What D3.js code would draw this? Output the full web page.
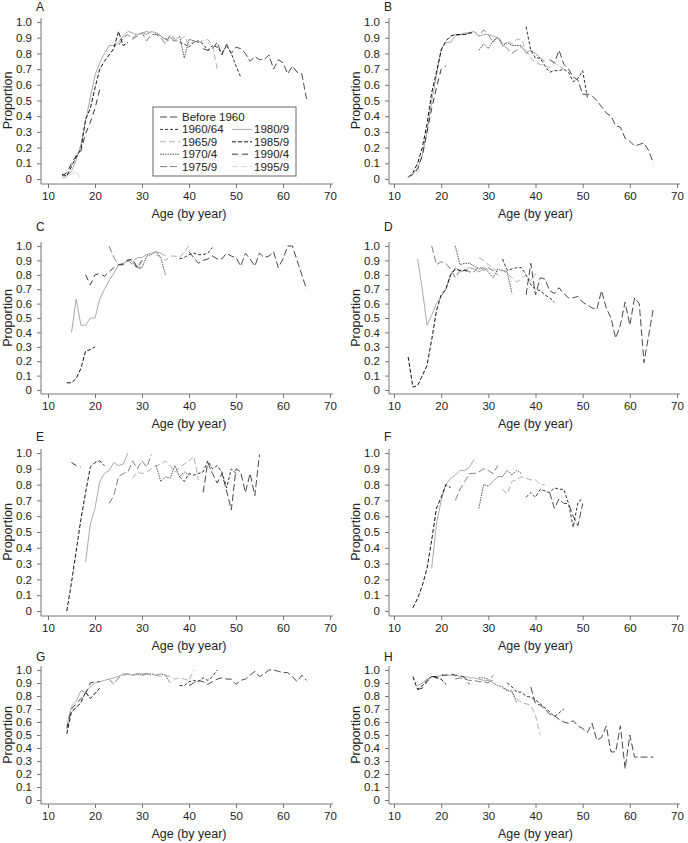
<!DOCTYPE html>
<head>
    <meta charset="utf-8">
    <title>Proportion by age and cohort</title>
    <script src="https://d3js.org/d3.v7.min.js"></script>
</head>
<style>
body {
  margin: 0;
  background: #fff;
  font-family: "Liberation Sans", Arial, Helvetica, sans-serif;
}
.tick text { font-size: 11.5px; fill: #222; }
.tick line { stroke: #777; }
</style>
<body>
    <svg></svg>
</body>

<script>

    // Cohorts shown in the legend
    var cohorts = ["Before 1960", "1960/64", "1965/9", "1970/4", "1975/9", "1980/9", "1985/9", "1990/4", "1995/9"];

    var xTicks = [10, 20, 30, 40, 50, 60, 70];
    var yTicks = [0, 0.1, 0.2, 0.3, 0.4, 0.5, 0.6, 0.7, 0.8, 0.9, 1.0];

    // Each series: [cohort, first age, proportions by single year of age]
    var panelA = [
        ["Before 1960", 43, [0.83, 0.82, 0.83, 0.87, 0.79, 0.86, 0.80, 0.84, 0.83, 0.80, 0.75, 0.78, 0.76, 0.76, 0.79, 0.70, 0.76, 0.74, 0.67, 0.72, 0.68, 0.67, 0.51]],
        ["1960/64", 38, [0.87, 0.86, 0.84, 0.87, 0.88, 0.86, 0.82, 0.85, 0.84, 0.80, 0.85, 0.80, 0.72, 0.65]],
        ["1965/9", 33, [0.93, 0.91, 0.89, 0.88, 0.88, 0.88, 0.91, 0.85, 0.88, 0.87, 0.88, 0.89, 0.85, 0.70]],
        ["1970/4", 28, [0.90, 0.92, 0.93, 0.92, 0.94, 0.93, 0.91, 0.89, 0.90, 0.88, 0.91, 0.77, 0.89, 0.88, 0.87]],
        ["1975/9", 23, [0.85, 0.85, 0.85, 0.90, 0.92, 0.89, 0.91, 0.93, 0.88, 0.92, 0.92, 0.90, 0.86, 0.92, 0.89]],
        ["1980/9", 13, [0.01, 0.02, 0.05, 0.12, 0.22, 0.37, 0.52, 0.66, 0.74, 0.80, 0.85, 0.85, 0.87, 0.91, 0.94, 0.93, 0.92, 0.93, 0.94, 0.93]],
        ["1985/9", 13, [0.03, 0.02, 0.08, 0.14, 0.19, 0.38, 0.45, 0.58, 0.70, 0.75, 0.79, 0.83, 0.94, 0.85, 0.87]],
        ["1990/4", 13, [0.02, 0.04, 0.10, 0.15, 0.18, 0.29, 0.36, 0.45, 0.57]],
        ["1995/9", 13, [0.00, 0.01, 0.03, 0.05, 0.00]]
    ];

    var panelB = [
        ["Before 1960", 43, [0.76, 0.74, 0.82, 0.73, 0.70, 0.65, 0.63, 0.54, 0.54, 0.53, 0.50, 0.46, 0.42, 0.40, 0.34, 0.33, 0.26, 0.24, 0.21, 0.22, 0.23, 0.18, 0.10]],
        ["1960/64", 38, [0.97, 0.82, 0.77, 0.77, 0.72, 0.68, 0.69, 0.69, 0.70, 0.68, 0.62, 0.64, 0.69, 0.52]],
        ["1965/9", 33, [0.84, 0.88, 0.86, 0.89, 0.89, 0.82, 0.77, 0.74, 0.73, 0.72, 0.71, 0.74, 0.72, 0.70]],
        ["1970/4", 28, [0.82, 0.86, 0.83, 0.88, 0.90, 0.85, 0.87, 0.85, 0.85, 0.85, 0.80, 0.82, 0.80, 0.77, 0.75]],
        ["1975/9", 23, [0.92, 0.92, 0.92, 0.93, 0.94, 0.91, 0.95, 0.92, 0.87, 0.91, 0.86, 0.83, 0.80, 0.82, 0.84]],
        ["1980/9", 13, [0.01, 0.03, 0.07, 0.15, 0.30, 0.50, 0.66, 0.83, 0.87, 0.87, 0.91, 0.92, 0.93, 0.93, 0.94, 0.91, 0.92, 0.92, 0.91, 0.90]],
        ["1985/9", 13, [0.01, 0.04, 0.10, 0.20, 0.35, 0.55, 0.68, 0.82, 0.88, 0.91, 0.92, 0.92, 0.92, 0.93, 0.93]],
        ["1990/4", 13, [0.01, 0.03, 0.06, 0.15, 0.30, 0.45, 0.58, 0.70, 0.72]],
        ["1995/9", 13, [0.01, 0.02, 0.04, 0.08]]
    ];

    var panelC = [
        ["Before 1960", 40, [0.96, 0.92, 0.88, 0.90, 0.91, 0.93, 0.91, 0.91, 0.95, 0.93, 0.92, 0.86, 0.95, 0.91, 0.86, 0.95, 0.92, 0.93, 0.96, 0.85, 0.91, 1.00, 1.00, 0.90, 0.80, 0.70]],
        ["1960/64", 38, [0.91, 0.92, 0.94, 0.95, 0.94, 0.94, 0.95, 0.99]],
        ["1965/9", 33, [0.94, 0.92, 0.90, 0.93, 0.93, 0.92, 0.96, 1.00]],
        ["1970/4", 28, [0.88, 0.86, 0.85, 0.93, 0.94, 0.96, 0.92, 0.80]],
        ["1975/9", 23, [1.00, 0.92, 0.87, 0.88, 0.90, 0.87, 0.85, 0.84]],
        ["1980/9", 15, [0.40, 0.63, 0.45, 0.45, 0.50, 0.50, 0.63, 0.70, 0.76, 0.81, 0.87, 0.87, 0.91, 0.89, 0.92, 0.92, 0.94, 0.95, 0.96, 0.95, 0.93]],
        ["1985/9", 14, [0.05, 0.05, 0.08, 0.15, 0.27, 0.28, 0.30]],
        ["1990/4", 18, [0.80, 0.73, 0.80, 0.81, 0.79, 0.82, 0.85, 0.87, 0.87, 0.90, 0.91, 0.85, 0.90]]
    ];

    var panelD = [
        ["Before 1960", 38, [0.66, 0.88, 0.66, 0.78, 0.77, 0.69, 0.67, 0.71, 0.67, 0.64, 0.64, 0.65, 0.61, 0.59, 0.57, 0.56, 0.69, 0.57, 0.50, 0.36, 0.45, 0.61, 0.45, 0.64, 0.60, 0.19, 0.38, 0.57]],
        ["1960/64", 33, [0.91, 0.83, 0.84, 0.85, 0.85, 0.80, 0.73, 0.70, 0.69, 0.66, 0.64, 0.61]],
        ["1965/9", 28, [0.92, 0.90, 0.87, 0.85, 0.82, 0.83, 0.81, 0.78, 0.75, 0.77, 0.80, 0.76, 0.81]],
        ["1970/4", 23, [1.00, 0.87, 0.88, 0.88, 0.86, 0.84, 0.85, 0.82, 0.78, 0.84, 0.83, 0.82, 0.67]],
        ["1975/9", 18, [1.00, 0.87, 0.89, 0.88, 0.84, 0.78, 0.83, 0.84, 0.82, 0.82, 0.86, 0.83, 0.85, 0.83, 0.80]],
        ["1980/9", 15, [0.91, 0.70, 0.45, 0.52, 0.60, 0.65, 0.70, 0.80, 0.85, 0.82, 0.83, 0.85, 0.84, 0.82, 0.84, 0.84]],
        ["1985/9", 13, [0.23, 0.02, 0.03, 0.10, 0.17, 0.35, 0.55, 0.66, 0.70, 0.80, 0.84, 0.83, 0.83, 0.82]]
    ];

    var panelE = [
        ["Before 1960", 43, [0.75, 0.94, 0.87, 0.81, 0.87, 0.76, 0.64, 0.90, 0.88, 0.75, 0.87, 0.73, 0.99]],
        ["1960/64", 38, [0.85, 0.82, 0.87, 0.86, 0.87, 0.88, 0.95, 0.90, 0.92, 0.88, 0.78, 0.90, 0.87]],
        ["1965/9", 28, [0.84, 0.88, 0.87, 0.88, 0.90, 0.92, 0.93, 0.95, 0.92, 0.88, 0.91, 0.93, 0.95, 0.98, 0.83]],
        ["1970/4", 33, [0.92, 0.82, 0.85, 0.84, 0.92, 0.85, 0.88, 0.86]],
        ["1975/9", 23, [0.68, 0.73, 0.85, 0.87, 0.88, 0.95, 0.90, 0.95, 0.91, 0.99]],
        ["1980/9", 18, [0.31, 0.55, 0.65, 0.82, 0.87, 0.89, 0.94, 0.92, 0.93, 1.00]],
        ["1985/9", 14, [0.00, 0.18, 0.38, 0.58, 0.75, 0.91, 0.94, 0.95, 0.92]],
        ["1990/4", 15, [0.94, 0.92, 0.91]]
    ];

    var panelF = [
        ["Before 1960", 43, [0.75, 0.65, 0.71, 0.68, 0.68, 0.60, 0.54, 0.68]],
        ["1960/64", 38, [0.72, 0.75, 0.72, 0.77, 0.76, 0.75, 0.78, 0.77, 0.77, 0.68, 0.53, 0.69, 0.71]],
        ["1965/9", 33, [0.77, 0.74, 0.82, 0.83, 0.85, 0.84, 0.83, 0.83, 0.80, 0.80]],
        ["1970/4", 28, [0.65, 0.80, 0.79, 0.82, 0.85, 0.85, 0.89, 0.86, 0.89, 0.87]],
        ["1975/9", 23, [0.70, 0.77, 0.82, 0.87, 0.87, 0.88, 0.90, 0.89, 0.87, 0.92]],
        ["1980/9", 18, [0.27, 0.55, 0.70, 0.80, 0.84, 0.86, 0.89, 0.89, 0.91, 0.96]],
        ["1985/9", 14, [0.02, 0.08, 0.16, 0.27, 0.45, 0.65, 0.72, 0.80, 0.78]]
    ];

    var panelG = [
        ["Before 1960", 40, [0.88, 0.90, 0.92, 0.91, 0.89, 0.91, 0.93, 0.94, 0.93, 0.93, 0.89, 0.92, 0.93, 0.96, 0.99, 0.95, 0.97, 1.00, 1.00, 0.99, 0.98, 0.98, 0.95, 0.91, 0.96, 0.92]],
        ["1960/64", 38, [0.88, 0.88, 0.91, 0.92, 0.91, 0.94, 0.92, 0.95, 1.00]],
        ["1965/9", 33, [0.96, 0.95, 0.96, 0.95, 0.93, 0.94, 0.93, 0.92, 1.00]],
        ["1970/4", 28, [0.96, 0.97, 0.96, 0.97, 0.97, 0.96, 0.97, 0.96, 0.90]],
        ["1975/9", 23, [0.93, 0.89, 0.94, 0.96, 0.97, 0.96, 0.97, 0.96, 0.97, 0.96]],
        ["1980/9", 14, [0.57, 0.72, 0.76, 0.84, 0.83, 0.87, 0.90, 0.91, 0.92, 0.93, 0.94, 0.95, 0.97, 0.97, 0.96, 0.97, 0.97, 0.97, 0.96]],
        ["1985/9", 14, [0.51, 0.68, 0.71, 0.75, 0.83, 0.78, 0.82, 0.86]],
        ["1990/4", 14, [0.55, 0.70, 0.74, 0.78, 0.82, 0.90, 0.91, 0.91]]
    ];

    var panelH = [
        ["Before 1960", 39, [0.87, 0.74, 0.73, 0.70, 0.66, 0.65, 0.62, 0.60, 0.59, 0.61, 0.57, 0.55, 0.52, 0.59, 0.46, 0.48, 0.57, 0.37, 0.37, 0.57, 0.24, 0.50, 0.33, 0.33, 0.33, 0.33, 0.33]],
        ["1960/64", 34, [0.90, 0.87, 0.83, 0.83, 0.80, 0.79, 0.77, 0.74, 0.71, 0.68, 0.64, 0.67, 0.70]],
        ["1965/9", 33, [0.86, 0.85, 0.83, 0.78, 0.75, 0.74, 0.73, 0.65, 0.50]],
        ["1970/4", 28, [0.94, 0.94, 0.93, 0.90, 0.88, 0.87, 0.84, 0.84, 0.75]],
        ["1975/9", 23, [0.93, 0.94, 0.93, 0.92, 0.92, 0.91, 0.91, 0.90, 0.96]],
        ["1980/9", 15, [0.88, 0.90, 0.93, 0.95, 0.94, 0.96, 0.96, 0.96, 0.96, 0.95, 0.95, 0.94, 0.94, 0.93, 0.92, 0.92, 0.92]],
        ["1985/9", 14, [0.95, 0.85, 0.88, 0.92, 0.95, 0.94, 0.93, 0.89]],
        ["1990/4", 15, [0.85, 0.86, 0.91, 0.95, 0.95, 0.96, 0.96, 0.97, 0.96, 0.96, 0.94, 0.89]]
    ];

    var panels = [
        {label: "A", data: panelA, col: 0, row: 0},
        {label: "B", data: panelB, col: 1, row: 0},
        {label: "C", data: panelC, col: 0, row: 1},
        {label: "D", data: panelD, col: 1, row: 1},
        {label: "E", data: panelE, col: 0, row: 2},
        {label: "F", data: panelF, col: 1, row: 2},
        {label: "G", data: panelG, col: 0, row: 3},
        {label: "H", data: panelH, col: 1, row: 3}
    ];

    // Line styles for each cohort (grey shades + dash patterns)
    var stroke = d3.scaleOrdinal().domain(cohorts)
        .range(["#4a4a4a", "#333", "#b0b0b0", "#555", "#808080", "#aaa", "#111", "#3a3a3a", "#d8d8d8"]);
    var dash = d3.scaleOrdinal().domain(cohorts)
        .range(["7,3", "3,2", "6,3", "1.5,1", "7,3", null, "4,2", "6,4", "6,3"]);

    // Layout of the 2 x 4 grid
    var cols = [{axis: 41, x0: 48, x1: 330}, {axis: 389, x0: 394, x1: 677}];
    var rows = [
        {title: 11, top: 22, bottom: 179, axis: 184},
        {title: 231, top: 246, bottom: 390, axis: 394},
        {title: 441, top: 453, bottom: 611, axis: 616},
        {title: 661, top: 670, bottom: 800, axis: 804}
    ];

    var svg = d3.select('svg')
        .attr('width', 688)
        .attr('height', 843);

    panels.forEach(function(p) {
        var c = cols[p.col], r = rows[p.row];
        var x = d3.scaleLinear().domain([10, 70]).range([c.x0, c.x1]);
        var y = d3.scaleLinear().domain([0, 1]).range([r.bottom, r.top]);
        var g = svg.append('g');

        // axis lines (L shape)
        g.append('line')
            .attr('x1', c.axis).attr('x2', c.axis)
            .attr('y1', r.top - 4).attr('y2', r.axis)
            .attr('stroke', '#777');
        g.append('line')
            .attr('x1', c.axis).attr('x2', c.x1 + 3)
            .attr('y1', r.axis).attr('y2', r.axis)
            .attr('stroke', '#777');

        g.append('g')
            .attr('transform', 'translate(' + c.axis + ',0)')
            .call(d3.axisLeft(y).tickValues(yTicks)
                .tickFormat(function(d) { return d === 0 ? "0" : d3.format(".1f")(d); })
                .tickSize(4).tickPadding(5).tickSizeOuter(0))
            .call(function(s) { s.select('.domain').remove(); });

        g.append('g')
            .attr('transform', 'translate(0,' + r.axis + ')')
            .call(d3.axisBottom(x).tickValues(xTicks)
                .tickSize(4).tickPadding(4).tickSizeOuter(0))
            .call(function(s) { s.select('.domain').remove(); });

        // titles
        g.append('text')
            .attr('x', c.axis - 5).attr('y', r.title)
            .attr('font-size', 12).attr('fill', '#222')
            .text(p.label);
        g.append('text')
            .attr('transform', 'translate(' + (c.axis - 29) + ',' + ((r.top + r.bottom) / 2) + ')rotate(-90)')
            .attr('text-anchor', 'middle')
            .attr('font-size', 12.5).attr('fill', '#222')
            .text('Proportion');
        g.append('text')
            .attr('x', (c.x0 + c.x1) / 2).attr('y', r.axis + 34)
            .attr('text-anchor', 'middle')
            .attr('font-size', 12.5).attr('fill', '#222')
            .text('Age (by year)');

        var line = d3.line()
            .x(function(d) { return x(d[0]); })
            .y(function(d) { return y(d[1]); });

        g.selectAll('path.series')
            .data(p.data)
            .enter().append('path')
            .attr('class', 'series')
            .attr('fill', 'none')
            .attr('stroke', function(s) { return stroke(s[0]); })
            .attr('stroke-width', 1)
            .attr('stroke-dasharray', function(s) { return dash(s[0]); })
            .attr('d', function(s) {
                return line(s[2].map(function(v, i) { return [s[1] + i, v]; }));
            });
    });

    // Legend inside panel A: first column has 5 entries, second column 4 (from row 2)
    var leg = svg.append('g').attr('transform', 'translate(153,107)');
    leg.append('rect')
        .attr('width', 143).attr('height', 69)
        .attr('fill', '#fff').attr('stroke', '#666');
    var items = leg.selectAll('g.item')
        .data(cohorts)
        .enter().append('g')
        .attr('class', 'item')
        .attr('transform', function(d, i) {
            var rowIdx = i < 5 ? i : i - 4;
            var colX = i < 5 ? 7 : 79;
            return 'translate(' + colX + ',' + (10 + rowIdx * 12.4) + ')';
        });
    items.append('line')
        .attr('x1', 0).attr('x2', 20)
        .attr('stroke', function(d) { return stroke(d); })
        .attr('stroke-dasharray', function(d) { return dash(d); });
    items.append('text')
        .attr('x', 22).attr('dy', '0.35em')
        .attr('font-size', 11.5).attr('fill', '#222')
        .text(function(d) { return d; });

</script>
